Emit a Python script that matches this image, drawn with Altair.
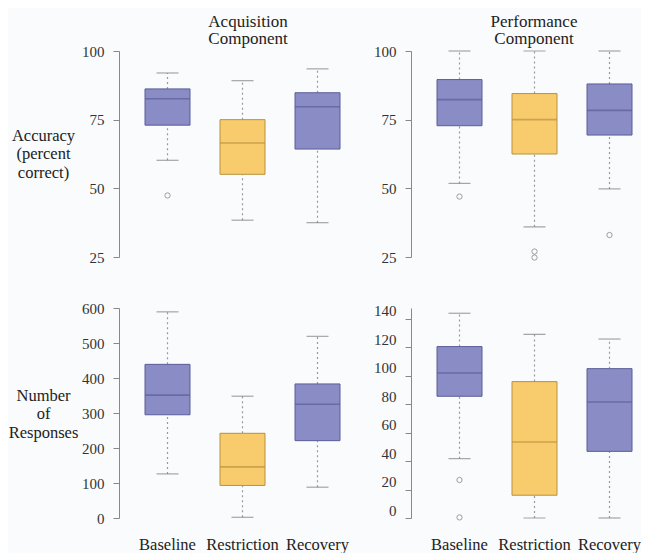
import altair as alt
import pandas as pd

FONT = "Liberation Serif"

categories = ["Baseline", "Restriction", "Recovery"]
box_fill = ["#8a8cc6", "#f8cb6c", "#8a8cc6"]
box_line = ["#5b5d98", "#b8923e", "#5b5d98"]

# Acquisition component - accuracy
acq_acc_lower = [60.2, 38.4, 37.5]
acq_acc_q1 = [73.0, 55.1, 64.3]
acq_acc_median = [82.6, 66.5, 79.7]
acq_acc_q3 = [86.2, 75.0, 84.8]
acq_acc_upper = [92.0, 89.2, 93.5]
acq_acc_out_cat = ["Baseline"]
acq_acc_out_val = [47.4]

# Performance component - accuracy
perf_acc_lower = [51.8, 36.0, 49.8]
perf_acc_q1 = [72.8, 62.5, 69.4]
perf_acc_median = [82.3, 75.0, 78.4]
perf_acc_q3 = [89.6, 84.5, 88.0]
perf_acc_upper = [100.0, 100.0, 100.0]
perf_acc_out_cat = ["Baseline", "Restriction", "Restriction", "Recovery"]
perf_acc_out_val = [47.0, 27.0, 24.8, 33.0]

# Acquisition component - number of responses
acq_resp_lower = [126, 2, 88]
acq_resp_q1 = [295, 93, 221]
acq_resp_median = [351, 146, 325]
acq_resp_q3 = [439, 242, 383]
acq_resp_upper = [589, 348, 519]
acq_resp_out_cat = []
acq_resp_out_val = []

# Performance component - number of responses
perf_resp_lower = [41.7, 0.0, 0.0]
perf_resp_q1 = [85.5, 16.0, 46.8]
perf_resp_median = [101.8, 53.4, 81.5]
perf_resp_q3 = [120.4, 95.8, 104.9]
perf_resp_upper = [143.8, 129.0, 125.7]
perf_resp_out_cat = ["Baseline", "Baseline"]
perf_resp_out_val = [26.7, 0.4]

acc_ticks = [25, 50, 75, 100]
acq_resp_ticks = [0, 100, 200, 300, 400, 500, 600]
perf_resp_ticks = [0, 20, 40, 60, 80, 100, 120, 140]


def panel(lower, q1, med, q3, upper, out_cat, out_val, ydom, yticks,
          height, xlabels, ytitle, titleY, title, dx, label_offset=0):
    df = pd.DataFrame({"cat": categories, "lower": lower, "q1": q1,
                       "median": med, "q3": q3, "upper": upper})
    odf = pd.DataFrame({"cat": out_cat, "val": out_val})
    xscale = alt.Scale(domain=categories, paddingInner=0.4,
                       paddingOuter=0.18, align=0.963)
    if xlabels:
        xaxis = alt.Axis(title=None, domain=False, ticks=False, labelAngle=0,
                         labelFont=FONT, labelFontSize=16.5, labelColor="#222",
                         labelPadding=18)
    else:
        xaxis = None
    yaxis = alt.Axis(values=yticks, grid=False, domainColor="#888",
                     tickColor="#888", tickSize=6, labelFont=FONT,
                     labelFontSize=15, labelColor="#333", labelPadding=9,
                     labelOffset=label_offset, labelOverlap=False,
                     labelBound=False, labelFlush=False,
                     title=ytitle if ytitle else None,
                     titleAngle=0, titleAlign="center", titleBaseline="middle",
                     titleX=-76, titleY=titleY, titleFont=FONT,
                     titleFontSize=16.5, titleFontWeight="normal",
                     titleColor="#222", titleLineHeight=18.5)
    yscale = alt.Scale(domain=ydom, nice=False, zero=False)

    def Y(field):
        return alt.Y(field, scale=yscale, axis=yaxis)

    x = alt.X("cat:N", scale=xscale, axis=xaxis, sort=categories)
    fill = alt.Color("cat:N", scale=alt.Scale(domain=categories, range=box_fill), legend=None)
    stroke = alt.Stroke("cat:N", scale=alt.Scale(domain=categories, range=box_line), legend=None)
    med_col = alt.Color("cat:N", scale=alt.Scale(domain=categories, range=box_line), legend=None)
    base = alt.Chart(df)
    w_up = base.mark_rule(color="#999", strokeDash=[2, 3], strokeWidth=1.2).encode(
        x=x, y=Y("q3:Q"), y2="upper:Q")
    w_lo = base.mark_rule(color="#999", strokeDash=[2, 3], strokeWidth=1.2).encode(
        x=x, y=Y("lower:Q"), y2="q1:Q")
    cap_up = base.mark_tick(color="#808080", size=22, thickness=1.2).encode(
        x=x, y=Y("upper:Q"))
    cap_lo = base.mark_tick(color="#808080", size=22, thickness=1.2).encode(
        x=x, y=Y("lower:Q"))
    box = base.mark_bar(strokeWidth=1).encode(
        x=x, y=Y("q1:Q"), y2="q3:Q", color=fill, stroke=stroke)
    med_t = base.mark_tick(size=45, thickness=1.6).encode(
        x=x, y=Y("median:Q"), color=med_col)
    layers = [w_up, w_lo, cap_up, cap_lo, box, med_t]
    if len(out_cat):
        pts = alt.Chart(odf).mark_point(shape="circle", filled=False, size=28,
                                        color="#777", strokeWidth=1).encode(
            x=x, y=Y("val:Q"))
        layers.append(pts)
    ch = alt.layer(*layers).resolve_scale(color="independent").properties(
        width=222, height=height)
    if title:
        ch = ch.properties(title=alt.Title(title, font=FONT, fontSize=17,
                                           fontWeight="normal", color="#222",
                                           anchor="middle", frame="group",
                                           lineHeight=17.5, offset=-4, dx=dx))
    return ch


tl = panel(acq_acc_lower, acq_acc_q1, acq_acc_median, acq_acc_q3, acq_acc_upper,
           acq_acc_out_cat, acq_acc_out_val, [25, 100], acc_ticks, 206, False,
           ["Accuracy", "(percent", "correct)"], 84,
           ["Acquisition", "Component"], 18)
tr = panel(perf_acc_lower, perf_acc_q1, perf_acc_median, perf_acc_q3, perf_acc_upper,
           perf_acc_out_cat, perf_acc_out_val, [25, 100], acc_ticks, 206, False,
           None, 0, ["Performance", "Component"], 12)
bl = panel(acq_resp_lower, acq_resp_q1, acq_resp_median, acq_resp_q3, acq_resp_upper,
           acq_resp_out_cat, acq_resp_out_val, [0, 600], acq_resp_ticks, 210, True,
           ["Number", "of", "Responses"], 87, None, 0)
br = panel(perf_resp_lower, perf_resp_q1, perf_resp_median, perf_resp_q3, perf_resp_upper,
           perf_resp_out_cat, perf_resp_out_val, [0, 147.5], perf_resp_ticks, 210, True,
           None, 0, None, 0, label_offset=-8)

chart = alt.concat(tl, tr, bl, br, columns=2, spacing={"row": 51, "column": 70},
                   bounds="flush", align="each").properties(
    padding={"left": 0, "top": 4, "right": 0, "bottom": 0}, background="#f9fbfc"
).configure_view(stroke=None).configure_axisY(labelOverlap=False)

chart.save("out.html", embed_options={"renderer": "svg", "actions": False})
